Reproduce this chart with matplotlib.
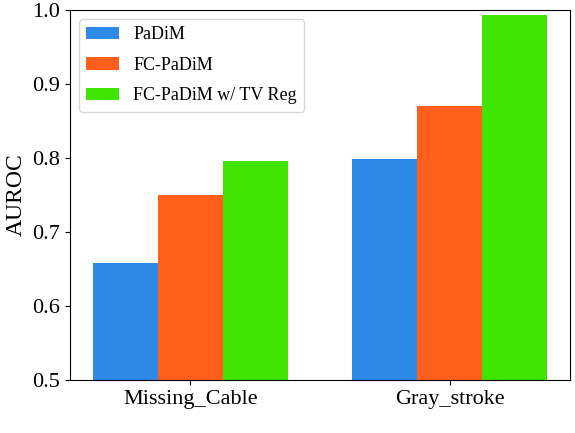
import matplotlib
matplotlib.use("Agg")
import matplotlib.pyplot as plt
import numpy as np

plt.rcParams['font.family'] = ['Liberation Serif', 'DejaVu Serif']

categories = ["Missing_Cable", "Gray_stroke"]
series_names = ["PaDiM", "FC-PaDiM", "FC-PaDiM w/ TV Reg"]
padim = [0.658, 0.799]
fc_padim = [0.750, 0.870]
fc_padim_tv = [0.796, 0.993]
colors = ["#2e8ae6", "#ff5f1a", "#3fe500"]

fig = plt.figure(figsize=(5.75, 4.33), dpi=100)
ax = fig.add_axes([0.122, 0.122, 0.869, 0.855])

x = np.arange(len(categories))
w = 0.25
for i, (vals, name) in enumerate(zip([padim, fc_padim, fc_padim_tv], series_names)):
    ax.bar(x + (i - 1) * w, vals, w, color=colors[i], label=name)

ax.set_ylim(0.5, 1.0)
ax.set_yticks([0.5, 0.6, 0.7, 0.8, 0.9, 1.0])
ax.set_xticks(x)
ax.set_xticklabels(categories)
ax.tick_params(axis='both', labelsize=16)
ax.set_ylabel("AUROC", fontsize=17)
ax.legend(loc='upper left', fontsize=13, labelspacing=0.75, handlelength=1.8)

fig.savefig("out.png", dpi=100)
